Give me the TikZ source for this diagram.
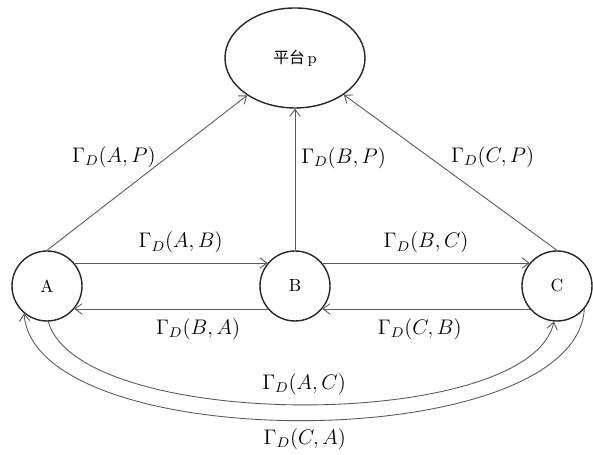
\documentclass[tikz,border=0pt]{standalone}
\usepackage{fontspec}
\newfontfamily\cjk{Noto Sans CJK SC}
\usetikzlibrary{positioning,shapes.geometric,arrows.meta}

\begin{document}
\begin{tikzpicture}[
    >={Straight Barb[length=4pt,width=6pt]},
    font=\fontsize{11.5}{14}\selectfont,
    agent/.style={
        draw=black!85,
        circle,
        line width=0.8pt,
        minimum size=1.4cm,
        inner sep=0pt,
        font=\normalsize
    },
    plat/.style={
        draw=black!85,
        ellipse,
        line width=0.8pt,
        minimum width=2.8cm,
        minimum height=2.0cm,
        inner sep=0pt,
        font=\small
    },
    arr/.style={->, draw=black!65, line width=0.5pt}
]
\useasboundingbox (0,0) rectangle (11.86,9.1);

% platform and agents
\node[plat] (P) at (5.9,7.94) {{\cjk 平台}\,p};
\node[agent] (A) at (0.94,3.38) {A};
\node[agent] (B) at (5.9,3.38) {B};
\node[agent] (C) at (11.14,3.38) {C};

% edges to the platform
\draw[arr] (A.90) -- node[pos=0.6,left=3pt] {$\Gamma_D(A,P)$} (P.218);
\draw[arr] (B.90) -- node[pos=0.65,right] {$\Gamma_D(B,P)$} (P.south);
\draw[arr] (C.90) -- node[pos=0.6,right=9pt] {$\Gamma_D(C,P)$} (P.323);

% edges between neighbours
\draw[arr] (A.40) -- node[pos=0.55,above=2pt] {$\Gamma_D(A,B)$} (B.140);
\draw[arr] (B.220) -- node[pos=0.36,below=2pt] {$\Gamma_D(B,A)$} (A.-40);
\draw[arr] (B.40) -- node[pos=0.5,above=2pt] {$\Gamma_D(B,C)$} (C.140);
\draw[arr] (C.220) -- node[pos=0.53,below=2pt] {$\Gamma_D(C,B)$} (B.-40);

% long way round
\draw[arr] (A.-88) .. controls (1.6,0.45) and (10.6,0.45) ..
    node[pos=0.5,above=2pt] {$\Gamma_D(A,C)$} (C.-95);
\draw[arr] (C.-40) .. controls (11.5,-0.04) and (0.7,-0.04) ..
    node[pos=0.5,below=1pt] {$\Gamma_D(C,A)$} (A.-130);

\end{tikzpicture}
\end{document}
